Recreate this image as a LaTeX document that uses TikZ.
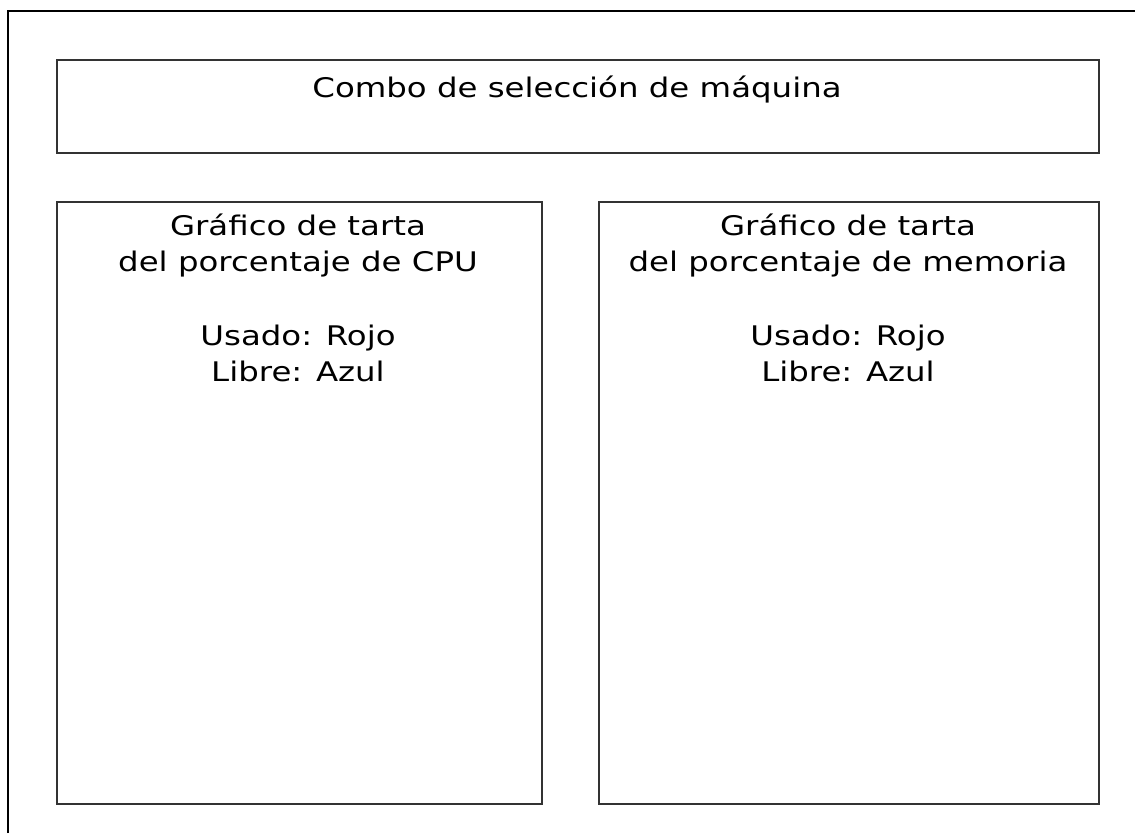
\documentclass[tikz,border=0pt]{standalone}
\usepackage{fontspec}
\setmainfont{DejaVu Sans}[FakeStretch=1.2]
\begin{document}
\begin{tikzpicture}[x=1pt,y=-1pt,
  panel/.style={draw=black!80, line width=2pt, anchor=north west, inner sep=0pt},
  lbl/.style={font=\fontsize{27}{37}\selectfont, inner sep=0pt, anchor=base}]
\useasboundingbox (0,0) rectangle (1135,833);
\coordinate (tl) at (8,11);
\coordinate (tr) at (1135,11);
\coordinate (bl) at (8,833);
\draw[line width=2pt] (bl) -- (tl) -- (tr);
\node[panel, minimum width=1042pt, minimum height=93pt] (combo) at (56,59) {};
\node[panel, minimum width=485pt, minimum height=602pt] (cpu) at (56,201) {};
\node[panel, minimum width=500pt, minimum height=602pt] (mem) at (598,201) {};
\node[lbl] (tcombo) at (577,97) {Combo de selección de máquina};
\node[lbl] (cpu1) at (298,235) {Gráfico de tarta};
\node[lbl] (cpu2) at (298,271) {del porcentaje de CPU};
\node[lbl] (cpu3) at (298,345) {Usado: Rojo};
\node[lbl] (cpu4) at (298,381) {Libre: Azul};
\node[lbl] (mem1) at (848,235) {Gráfico de tarta};
\node[lbl] (mem2) at (848,271) {del porcentaje de memoria};
\node[lbl] (mem3) at (848,345) {Usado: Rojo};
\node[lbl] (mem4) at (848,381) {Libre: Azul};
\end{tikzpicture}
\end{document}
